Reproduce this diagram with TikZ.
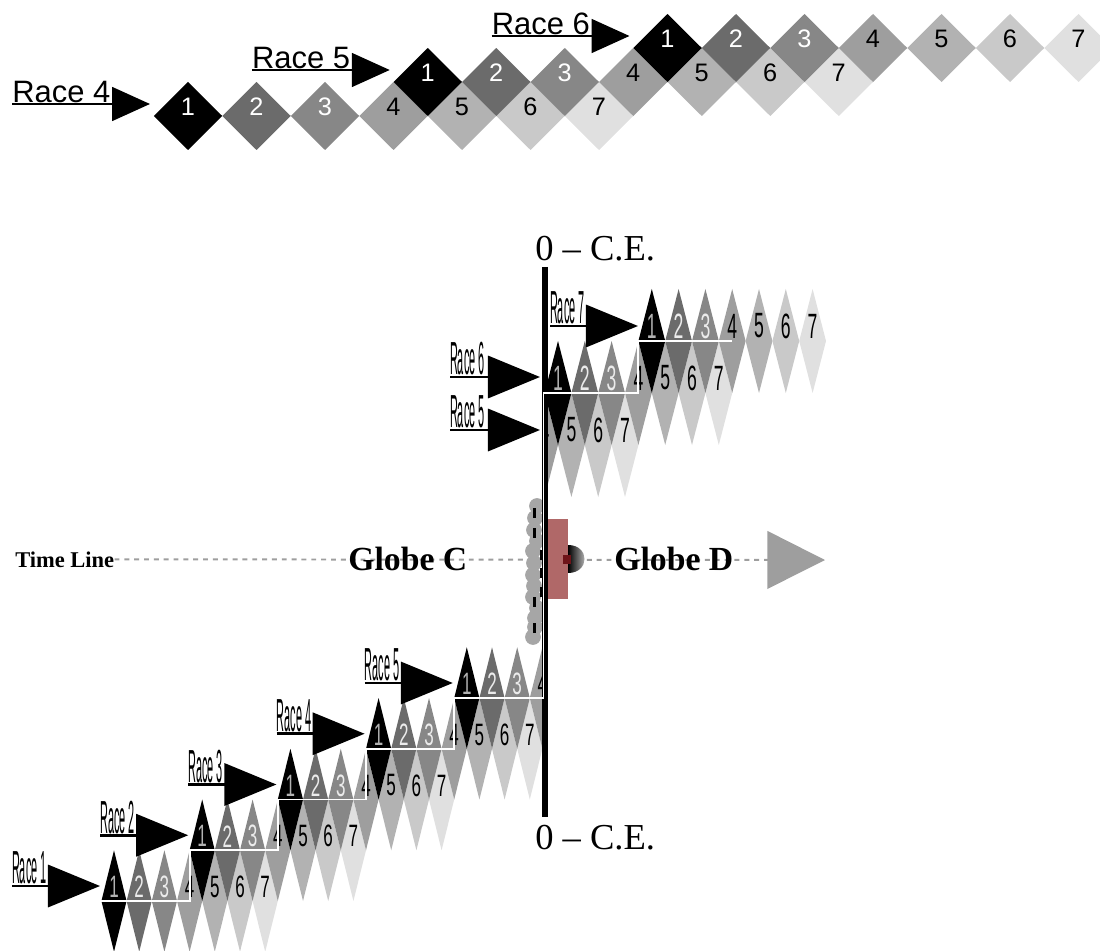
\documentclass[tikz,border=0pt]{standalone}
\usepackage{fontspec}
\setmainfont{Liberation Serif}
\newfontfamily\racefont{Liberation Sans}
\usetikzlibrary{arrows.meta,positioning}

\definecolor{rc1}{gray}{0}
\definecolor{rc2}{gray}{0.42}
\definecolor{rc3}{gray}{0.53}
\definecolor{rc4}{gray}{0.62}
\definecolor{rc5}{gray}{0.70}
\definecolor{rc6}{gray}{0.79}
\definecolor{rc7}{gray}{0.88}
\definecolor{lab1}{gray}{0.7}
\definecolor{lab2}{gray}{0.92}
\definecolor{globered}{RGB}{176,104,104}
\definecolor{kernred}{RGB}{110,20,25}

\begin{document}
\begin{tikzpicture}[x=0.25mm,y=-0.25mm,
	toplab/.style={font=\racefont\fontsize{18pt}{18pt}\selectfont,inner sep=0pt},
	lowlab/.style={font=\racefont\fontsize{22pt}{22pt}\selectfont,inner sep=0pt,xscale=0.55},
	uplab/.style={font=\racefont\fontsize{25pt}{25pt}\selectfont,inner sep=0pt,xscale=0.5},
	toprace/.style={font=\racefont\fontsize{22pt}{22pt}\selectfont,inner sep=0pt},
	sliprace/.style={font=\racefont\fontsize{33pt}{33pt}\selectfont,inner sep=0pt,xscale=0.235},
	toparrow/.style={line width=1.8pt,-{Triangle[length=27pt,width=24pt]}},
	sliparrow/.style={line width=2pt,-{Triangle[length=37pt,width=30pt]}},
	timeline/.style={draw=black!38,line width=1.4pt,dash pattern=on 3.5pt off 3.5pt,-{Triangle[length=41pt,width=41pt]}},
	globe/.style={font=\bfseries\fontsize{24pt}{24pt}\selectfont,inner sep=0pt,anchor=base west},
	cefont/.style={font=\fontsize{26pt}{26pt}\selectfont,inner sep=0pt,anchor=base west},
	bead/.style={fill=black!35}]
	\useasboundingbox (0,0) rectangle (1100,951);

	% top strip
	\foreach \rr/\cx/\cy in {4/188/116,5/427.75/82,6/667.5/48}{
		\foreach \i/\tc in {1/white,2/white,3/white,4/black,5/black,6/black,7/black}{
			\pgfmathsetmacro\px{\cx+68.5*(\i-1)}
			\fill[rc\i] (\px-34.25,\cy) -- (\px,\cy-34) -- (\px+34.25,\cy) -- (\px,\cy+34) -- cycle;
			\node[toplab,text=\tc] (top\rr-\i) at (\px,\cy-9) {\i};
		}
	}
	\foreach \rr/\cx/\cy in {4/188/116,5/427.75/82,6/667.5/48}{
		\coordinate (ttail\rr) at (\cx-176,\cy-12);
		\coordinate (thead\rr) at (\cx-38,\cy-12);
		\draw[toparrow] (ttail\rr) -- (thead\rr);
		\node[toprace,above right=1pt and 0pt of ttail\rr] (trace\rr) {Race \rr};
	}

	% globe C
	\begin{scope}
		\clip (0,0) rectangle (545,951);
		\foreach \rr/\last in {1/7,2/7,3/7,4/7,5/4}{
			\pgfmathsetmacro\cx{114+88.2*(\rr-1)}
			\pgfmathsetmacro\cy{901-50.75*(\rr-1)}
			\foreach \i/\tc in {1/lab1,2/lab2,3/lab2,4/black,5/black,6/black,7/black}{
				\ifnum\i>\last\relax\else
				\pgfmathsetmacro\px{\cx+25.2*(\i-1)}
				\fill[rc\i] (\px-12.6,\cy) -- (\px,\cy-50.75) -- (\px+12.6,\cy) -- (\px,\cy+50.75) -- cycle;
				\node[lowlab,text=\tc] (c\rr-\i) at (\px,\cy-14) {\i};
				\fi
			}
		}
	\end{scope}

	% globe D
	\begin{scope}
		\clip (545,0) rectangle (1100,951);
		\foreach \rr/\cx/\cy/\first in {5/464.2/445/4,6/558/393/1,7/651.8/341/1}{
			\foreach \i/\tc in {1/lab1,2/lab2,3/lab2,4/black,5/black,6/black,7/black}{
				\ifnum\i<\first\relax\else
				\pgfmathsetmacro\px{\cx+26.8*(\i-1)}
				\fill[rc\i] (\px-13.4,\cy) -- (\px,\cy-52) -- (\px+13.4,\cy) -- (\px,\cy+52) -- cycle;
				\node[uplab,text=\tc] (d\rr-\i) at (\px,\cy-15) {\i};
				\fi
			}
		}
	\end{scope}

	% time line
	\node[font=\bfseries\fontsize{16pt}{16pt}\selectfont,inner sep=0pt,anchor=base west] (tline) at (15,567) {Time Line};
	\coordinate (tend) at (825,560);
	\draw[timeline] (tline.east) -- (tend);
	\node[globe] (globec) at (348,570) {Globe C};
	\node[globe] (globed) at (614,570) {Globe D};

	% beads
	\foreach \yy/\xx in {506/537,518/535,530/534,541/537,551/533,563/534,575/533,586/534,597/533,608/537,618/535,627/535,637/533}
		\fill[bead] (\xx,\yy) circle (5.6pt);
	\foreach \yy/\xx in {508/533,528/533,597/533,623/533,550/540,568/540,587/540}
		\fill[black] (\xx,\yy) rectangle ++(3,10);

	% axis
	\coordinate (axtop) at (545,267);
	\coordinate (axbot) at (545,817);
	\draw[line width=4.3pt] (axtop) -- (axbot);
	\draw[white,line width=1.4pt] (101.4,901) -| (189.6,850.25) -| (277.8,799.5) -| (366,748.75) -| (454.2,698) -| (543.5,393) -| (638.4,341) -- (732.2,341);
	\fill[globered] (548,519) rectangle (568,599);
	\shade[left color=black,right color=black!10] (568,545) .. controls (590,545) and (590,573) .. (568,573) -- cycle;
	\fill[kernred] (563,555) rectangle (571,564);

	% race arrows
	\foreach \rr in {1,...,5}{
		\pgfmathsetmacro\cx{114+88.2*(\rr-1)}
		\pgfmathsetmacro\cy{901-50.75*(\rr-1)}
		\coordinate (ctail\rr) at (\cx-102,\cy-15);
		\coordinate (chead\rr) at (\cx-14,\cy-15);
		\draw[sliparrow] (ctail\rr) -- (chead\rr);
		\node[sliprace,above right=1pt and 0pt of ctail\rr] (crace\rr) {Race \rr};
	}
	\foreach \rr/\ax/\bx/\ay in {5/450/540/430,6/450/540/377,7/550/638/326}{
		\coordinate (dtail\rr) at (\ax,\ay);
		\coordinate (dhead\rr) at (\bx,\ay);
		\draw[sliparrow] (dtail\rr) -- (dhead\rr);
		\node[sliprace,above right=1pt and 0pt of dtail\rr] (drace\rr) {Race \rr};
	}

	\node[cefont] (cetop) at (535,261) {0 – C.E.};
	\node[cefont] (cebot) at (535,849) {0 – C.E.};
\end{tikzpicture}
\end{document}
